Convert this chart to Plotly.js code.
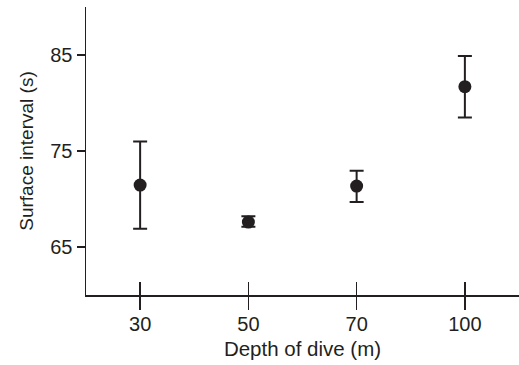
<!DOCTYPE html>
<html>
<head>
<meta charset="utf-8">
<script src="https://cdn.plot.ly/plotly-3.0.1.min.js"></script>
<style>html,body{margin:0;padding:0;background:#fff;}#chart{width:519px;height:365px;}</style>
</head>
<body>
<div id="chart"></div>
<script>
const depths = ["30", "50", "70", "100"];
const meanInterval = [71.45, 67.6, 71.35, 81.7];
const upperError = [4.55, 0.6, 1.6, 3.2];
const lowerError = [4.55, 0.5, 1.65, 3.2];

const ink = "#231f20";
const fam = "Liberation Sans, Arial, sans-serif";
const tickFont = {family: fam, size: 20, color: ink};
const xTitleFont = {family: fam, size: 20.5, color: ink};
const yTitleFont = {family: fam, size: 19, color: ink};

const trace = {
  x: depths,
  y: meanInterval,
  type: "scatter",
  mode: "markers",
  marker: {size: 13, color: ink},
  error_y: {type: "data", symmetric: false, array: upperError, arrayminus: lowerError,
            color: ink, thickness: 2, width: 7},
  showlegend: false,
  hoverinfo: "none"
};
const ghost = {x: depths, y: meanInterval, xaxis: "x2", type: "scatter", mode: "markers",
  marker: {size: 1, opacity: 0}, showlegend: false, hoverinfo: "none"};

const layout = {
  width: 519, height: 365,
  margin: {l: 86, r: 0, t: 7, b: 70},
  paper_bgcolor: "#fff", plot_bgcolor: "#fff",
  font: tickFont,
  xaxis: {
    type: "category", range: [-0.5, 3.5],
    showline: true, linecolor: ink, linewidth: 1.5,
    ticks: "outside", ticklen: 13, tickwidth: 1.5, tickcolor: ink,
    showgrid: false, zeroline: false,
    tickfont: tickFont, ticklabelstandoff: -3,
    title: {text: "Depth of dive (m)", font: xTitleFont, standoff: 8}
  },
  xaxis2: {
    type: "category", range: [-0.5, 3.5], overlaying: "x", side: "bottom",
    ticks: "inside", ticklen: 13, tickwidth: 1.5, tickcolor: ink,
    showticklabels: false, showgrid: false, zeroline: false, showline: false
  },
  yaxis: {
    range: [60, 90], tickvals: [65, 75, 85],
    showline: true, linecolor: ink, linewidth: 1.5,
    ticks: "outside", ticklen: 8, tickwidth: 1.5, tickcolor: ink,
    showgrid: false, zeroline: false,
    tickfont: tickFont,
    title: {text: "Surface interval (s)", font: yTitleFont, standoff: 11}
  }
};

Plotly.newPlot("chart", [trace, ghost], layout, {displayModeBar: false, staticPlot: true});
</script>
</body>
</html>
